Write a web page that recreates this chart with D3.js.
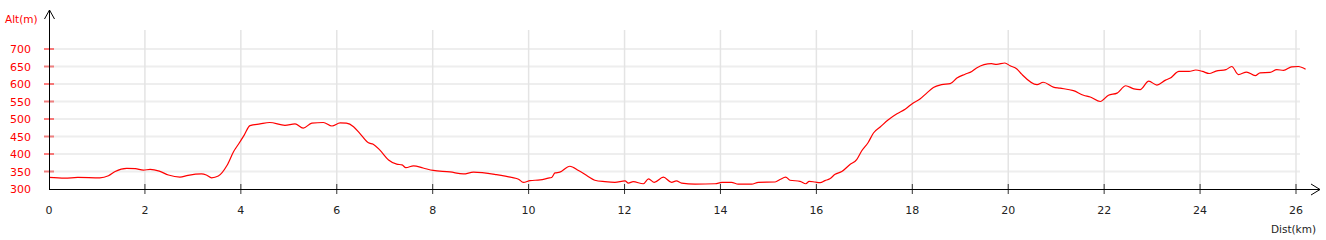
<!DOCTYPE html>
<html><head><meta charset="utf-8">
<script src="https://cdn.jsdelivr.net/npm/d3@7"></script>
<style>body{margin:0;background:#fff}svg{display:block;font-family:"DejaVu Sans",Verdana,sans-serif}</style>
</head><body><svg id="c" width="1326" height="240"></svg>
<script>
const distKm = [0,0.33,0.6,1.06,1.24,1.38,1.62,1.8,1.97,2.11,2.3,2.49,2.73,2.9,3.18,3.28,3.39,3.53,3.71,3.85,3.95,4.07,4.19,4.4,4.6,4.92,5.13,5.3,5.48,5.72,5.9,6.07,6.2,6.35,6.48,6.66,6.76,6.9,7.08,7.25,7.36,7.44,7.6,7.8,8.01,8.36,8.64,8.85,9.33,9.65,9.79,9.89,10.03,10.24,10.41,10.48,10.55,10.65,10.86,11.04,11.24,11.38,11.59,11.8,12.01,12.08,12.18,12.39,12.5,12.62,12.81,12.98,13.08,13.19,13.47,13.89,14.03,14.23,14.37,14.65,14.79,15.14,15.24,15.36,15.45,15.66,15.78,15.85,15.97,16.08,16.18,16.28,16.39,16.53,16.7,16.84,16.94,17.08,17.19,17.33,17.5,17.68,17.85,18.02,18.16,18.3,18.44,18.61,18.79,18.93,19.1,19.24,19.34,19.65,19.76,19.93,20.04,20.18,20.28,20.6,20.73,20.94,21.08,21.36,21.57,21.71,21.92,22.09,22.27,22.45,22.62,22.75,22.93,23.1,23.28,23.38,23.56,23.77,23.91,24.05,24.19,24.33,24.54,24.66,24.8,24.97,25.15,25.25,25.46,25.6,25.74,25.91,26.05,26.2];
const altM = [333,331,333,332,338,350,359,358,354,356,351,340,334,339,343,340,332,337,367,407,428,454,481,486,490,482,486,474,488,490,480,489,488,478,459,432,428,411,383,371,369,361,366,360,353,349,343,348,341,333,328,319,324,326,331,333,346,348,365,353,336,325,321,319,323,317,321,315,329,319,334,319,323,317,314,315,319,319,314,314,319,320,327,334,325,322,315,322,320,318,324,329,342,350,370,384,408,433,460,477,498,515,528,546,557,574,590,598,601,617,628,636,646,658,656,660,652,643,628,598,605,591,588,581,568,563,550,568,574,595,586,584,608,597,611,617,636,636,640,636,630,637,641,650,627,634,624,632,633,641,639,649,650,642];
const xTicks = [0,2,4,6,8,10,12,14,16,18,20,22,24,26];
const yTicks = [300,350,400,450,500,550,600,650,700];

const svg = d3.select("#c");
const x = d3.scaleLinear().domain([0,26]).range([49,1296]);
const y = d3.scaleLinear().domain([300,700]).range([189,49]);

// horizontal grid
svg.append("g").selectAll("line").data(yTicks.filter(v=>v>300)).join("line")
  .attr("x1",49).attr("x2",1300).attr("y1",d=>y(d)).attr("y2",d=>y(d))
  .attr("stroke",d=>d%100===0?"#dddddd":"#eeeeee").attr("stroke-width",d=>d%100===0?1:2);
// vertical grid
svg.append("g").selectAll("line").data(xTicks.filter(v=>v>0)).join("line")
  .attr("x1",d=>x(d)).attr("x2",d=>x(d)).attr("y1",30).attr("y2",189)
  .attr("stroke","#e4e4e4").attr("stroke-width",1.5);

// y ticks
svg.append("g").selectAll("line").data(yTicks.filter(v=>v>300)).join("line")
  .attr("x1",44).attr("x2",54).attr("y1",d=>y(d)).attr("y2",d=>y(d))
  .attr("stroke",d=>d%100===0?"#ff0000":"#f08080").attr("stroke-width",d=>d%100===0?1:2);
svg.append("g").selectAll("text").data(yTicks).join("text")
  .attr("x",31).attr("y",d=>y(d)+4).attr("text-anchor","end")
  .attr("fill","#ff0000").attr("font-size",11).text(d=>d);

// x ticks
svg.append("g").selectAll("line").data(xTicks.filter(v=>v>0)).join("line")
  .attr("x1",d=>x(d)).attr("x2",d=>x(d)).attr("y1",184).attr("y2",194)
  .attr("stroke","#333").attr("stroke-width",1);
svg.append("g").selectAll("text").data(xTicks).join("text")
  .attr("x",d=>x(d)).attr("y",214).attr("text-anchor","middle")
  .attr("fill","#222").attr("font-size",11).text(d=>d);

// line
const line = d3.line().x((d,i)=>x(distKm[i])).y(d=>y(d)).curve(d3.curveMonotoneX);
svg.append("path").datum(altM).attr("d",line).attr("fill","none")
  .attr("stroke","#ff0000").attr("stroke-width",1.2);

// axes
svg.append("line").attr("x1",49.5).attr("x2",49.5).attr("y1",10).attr("y2",189.5).attr("stroke","#000");
svg.append("line").attr("x1",49).attr("x2",1320).attr("y1",189.5).attr("y2",189.5).attr("stroke","#000");
svg.append("path").attr("d","M44.5,19 L49.5,10 L54.5,19").attr("fill","none").attr("stroke","#000");
svg.append("path").attr("d","M1311,184 L1320,189.5 L1311,195").attr("fill","none").attr("stroke","#000");

svg.append("text").attr("x",5).attr("y",23).attr("fill","#ff0000").attr("font-size",10.5).text("Alt(m)");
svg.append("text").attr("x",1316).attr("y",233).attr("text-anchor","end").attr("fill","#222").attr("font-size",10.5).text("Dist(km)");
</script></body></html>
